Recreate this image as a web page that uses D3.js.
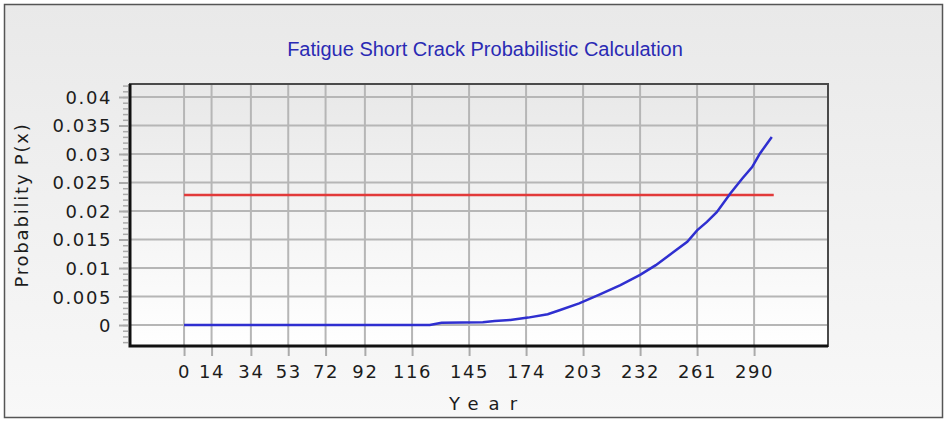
<!DOCTYPE html>
<html>
<head>
<meta charset="utf-8">
<script src="https://cdn.jsdelivr.net/npm/d3@7"></script>
<style>
  html, body { margin: 0; padding: 0; background: #fff; }
  svg { display: block; }
</style>
</head>
<body>
<div id="chart"></div>
<script>
// values
var yearTicks = [0, 14, 34, 53, 72, 92, 116, 145, 174, 203, 232, 261, 290];
var probTicks = [0, 0.005, 0.01, 0.015, 0.02, 0.025, 0.03, 0.035, 0.04];
var probTickLabels = ["0", "0.005", "0.01", "0.015", "0.02", "0.025", "0.03", "0.035", "0.04"];

var curveYears = [0, 125, 131, 152, 158, 166, 175, 185, 191, 201, 211, 222, 232, 240, 249, 256, 261, 266, 271, 278, 284, 289, 293, 299];
var curveProb  = [0, 0, 0.0004, 0.0005, 0.0007, 0.0009, 0.0013, 0.0019, 0.0026, 0.0038, 0.0053, 0.0070, 0.0088, 0.0105, 0.0128, 0.0146, 0.0166, 0.0181, 0.0198, 0.0231, 0.0257, 0.0277, 0.0301, 0.0330];

var limitYears = [0, 300];
var limitProb  = [0.0228, 0.0228];

var W = 947, H = 421;
var plot = {left: 130, top: 84, right: 828, bottom: 346};

var svg = d3.select("#chart").append("svg")
  .attr("width", W)
  .attr("height", H);

var defs = svg.append("defs");
var bg = defs.append("linearGradient").attr("id", "bg").attr("x1", 0).attr("y1", 0).attr("x2", 0).attr("y2", 1);
bg.append("stop").attr("offset", "0%").attr("stop-color", "#e9e9e9");
bg.append("stop").attr("offset", "100%").attr("stop-color", "#f8f8f8");
var pg = defs.append("linearGradient").attr("id", "pg").attr("x1", 0).attr("y1", 0).attr("x2", 0).attr("y2", 1);
pg.append("stop").attr("offset", "0%").attr("stop-color", "#e8e8e8");
pg.append("stop").attr("offset", "100%").attr("stop-color", "#ffffff");

// outer panel
svg.append("rect")
  .attr("x", 4.5).attr("y", 4.5)
  .attr("width", W - 9).attr("height", H - 8)
  .attr("fill", "url(#bg)")
  .attr("stroke", "#555")
  .attr("stroke-width", 1.5);

// title
svg.append("text")
  .attr("x", 485).attr("y", 56)
  .attr("text-anchor", "middle")
  .style("font-family", "'Liberation Sans', Arial, sans-serif")
  .style("font-size", "20px")
  .attr("fill", "#2a2ab4")
  .text("Fatigue Short Crack Probabilistic Calculation");

// scales
var x = d3.scaleLinear().domain([-27.5, 327.6]).range([plot.left, plot.right]);
var y = d3.scaleLinear().domain([-0.00368, 0.04228]).range([plot.bottom, plot.top]);

// plot background
svg.append("rect")
  .attr("x", plot.left).attr("y", plot.top)
  .attr("width", plot.right - plot.left).attr("height", plot.bottom - plot.top)
  .attr("fill", "url(#pg)");

// grid
var grid = svg.append("g").attr("class", "grid");
grid.selectAll(".vg").data(yearTicks).enter().append("line")
  .attr("x1", function(d) { return x(d); }).attr("x2", function(d) { return x(d); })
  .attr("y1", plot.top).attr("y2", plot.bottom)
  .attr("stroke", "#b6b6b6").attr("stroke-width", 2);
grid.selectAll(".hg").data(probTicks).enter().append("line")
  .attr("x1", plot.left).attr("x2", plot.right)
  .attr("y1", function(d) { return y(d); }).attr("y2", function(d) { return y(d); })
  .attr("stroke", "#b6b6b6").attr("stroke-width", 2);

// y axis, minor ticks then major ticks with labels
var minor = d3.range(-3, 43).map(function(i) { return i / 1000; });
svg.append("g")
  .attr("transform", "translate(" + (plot.left - 2) + ",0)")
  .call(d3.axisLeft(y).tickValues(minor).tickSize(5).tickFormat(""))
  .call(function(g) {
    g.select(".domain").remove();
    g.selectAll("line").attr("stroke", "#aaa").attr("stroke-width", 1.5);
  });

svg.append("g")
  .attr("transform", "translate(" + (plot.left - 2) + ",0)")
  .call(d3.axisLeft(y).tickValues(probTicks).tickSize(9).tickPadding(7)
    .tickFormat(function(d, i) { return probTickLabels[i]; }))
  .call(function(g) {
    g.select(".domain").remove();
    g.selectAll("line").attr("stroke", "#aaa").attr("stroke-width", 2);
    g.selectAll("text")
      .attr("fill", "#1c1c1c")
      .attr("dy", "0.36em")
      .style("font-family", "'DejaVu Sans', Verdana, sans-serif")
      .style("font-size", "18px")
      .style("letter-spacing", "1.6px");
  });

// x axis
svg.append("g")
  .attr("transform", "translate(0," + (plot.bottom + 1) + ")")
  .call(d3.axisBottom(x).tickValues(yearTicks).tickSize(9).tickPadding(9))
  .call(function(g) {
    g.select(".domain").remove();
    g.selectAll("line").attr("stroke", "#aaa").attr("stroke-width", 2);
    g.selectAll("text")
      .attr("fill", "#1c1c1c")
      .style("font-family", "'DejaVu Sans', Verdana, sans-serif")
      .style("font-size", "18px")
      .style("letter-spacing", "1.6px");
  });

// frame
svg.append("rect")
  .attr("x", plot.left).attr("y", plot.top)
  .attr("width", plot.right - plot.left).attr("height", plot.bottom - plot.top)
  .attr("fill", "none").attr("stroke", "#4a4a4a").attr("stroke-width", 2);
svg.append("path")
  .attr("d", "M" + plot.left + "," + plot.top + "V" + plot.bottom + "H" + plot.right)
  .attr("fill", "none").attr("stroke", "#111").attr("stroke-width", 3);

// series
var line = d3.line()
  .x(function(d) { return x(d[0]); })
  .y(function(d) { return y(d[1]); });

svg.append("path")
  .datum(d3.zip(limitYears, limitProb))
  .attr("d", line)
  .attr("fill", "none")
  .attr("stroke", "#e23a3a")
  .attr("stroke-width", 2.5);

svg.append("path")
  .datum(d3.zip(curveYears, curveProb))
  .attr("d", line)
  .attr("fill", "none")
  .attr("stroke", "#2f2fd0")
  .attr("stroke-width", 2.5);

// axis titles
svg.append("text")
  .attr("x", 488).attr("y", 410)
  .attr("text-anchor", "middle")
  .style("font-family", "'DejaVu Sans', Verdana, sans-serif")
  .style("font-size", "18px")
  .style("letter-spacing", "10px")
  .attr("fill", "#1c1c1c")
  .text("Year");

svg.append("text")
  .attr("transform", "translate(28,205) rotate(-90)")
  .attr("text-anchor", "middle")
  .style("font-family", "'DejaVu Sans', Verdana, sans-serif")
  .style("font-size", "18px")
  .style("letter-spacing", "1.8px")
  .attr("fill", "#1c1c1c")
  .text("Probability P(x)");
</script>
</body>
</html>
